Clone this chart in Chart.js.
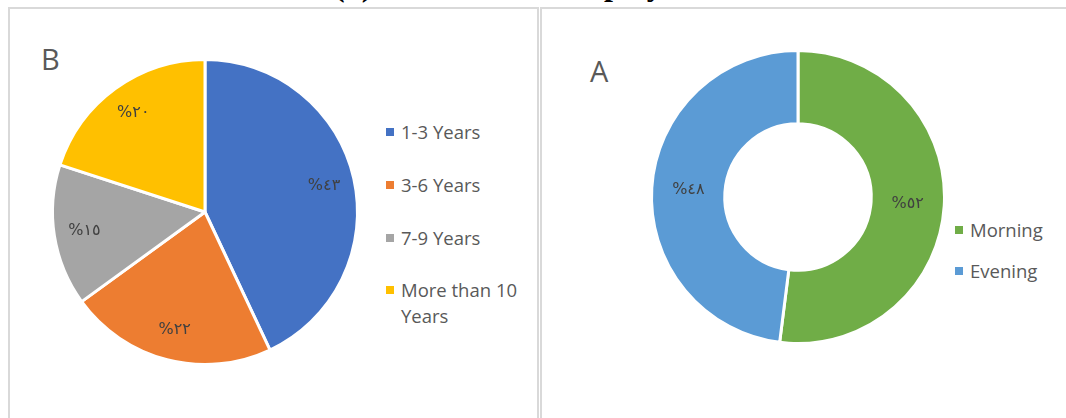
<!DOCTYPE html>
<html>
<head>
<meta charset="utf-8">
<script src="https://cdn.jsdelivr.net/npm/chart.js@4.4.1/dist/chart.umd.min.js"></script>
<style>
  html, body { margin:0; padding:0; background:#fff; width:1066px; height:418px; overflow:hidden; position:relative; font-family:"Open Sans", "Liberation Sans", sans-serif; }
  .panel { position:absolute; border:2px solid #d9d9d9; background:#fff; }
  .title { position:absolute; top:-34px; font-family:"Liberation Serif", "DejaVu Serif", serif; font-weight:bold; font-size:32px; color:#000; white-space:nowrap; }
  .letter { position:absolute; font-size:29px; color:#595959; line-height:1; }
  canvas { position:absolute; }
  .leg { position:absolute; font-size:18.5px; color:#595959; line-height:26px; white-space:nowrap; }
  .leg .sw { position:absolute; left:0; top:9px; width:8px; height:8px; }
  .leg .tx { position:absolute; left:15px; top:0; }
</style>
</head>
<body>
<div class="title" style="left:334px;">(٢)</div>
<div class="title" style="left:556px;">Employment</div>
<div class="panel" style="left:8px; top:7px; width:527px; height:430px;"></div>
<div class="panel" style="left:540px; top:7px; width:540px; height:430px;"></div>
<div class="letter" style="left:41px; top:44px;">B</div>
<div class="letter" style="left:590px; top:56px;">A</div>
<canvas id="pieB" width="320" height="320" style="left:45px; top:52px; width:320px; height:320px;"></canvas>
<canvas id="donA" width="310" height="310" style="left:643px; top:42px; width:310px; height:310px;"></canvas>
<div id="legB"></div>
<div id="legA"></div>
<script>
// ---- data ----
const yearsCategories = ["1-3 Years", "3-6 Years", "7-9 Years", "More than 10 Years"];
const yearsValues = [43, 22, 15, 20];
const yearsColors = ["#4472C4", "#ED7D31", "#A5A5A5", "#FFC000"];

const shiftCategories = ["Morning", "Evening"];
const shiftValues = [52, 48];
const shiftColors = ["#70AD47", "#5B9BD5"];

// ---- helpers ----
const arabicDigits = ["٠","١","٢","٣","٤","٥","٦","٧","٨","٩"];
function toArabic(v) { return "%" + String(v).split("").map(d => arabicDigits[+d] || d).join(""); }

const valueLabels = {
  id: "valueLabels",
  afterDatasetsDraw(chart, args, opts) {
    const ctx = chart.ctx;
    const meta = chart.getDatasetMeta(0);
    ctx.save();
    ctx.font = opts.font;
    ctx.fillStyle = opts.color;
    ctx.textAlign = "center";
    ctx.textBaseline = "middle";
    meta.data.forEach((arc, i) => {
      const p = arc.getProps(["x","y","startAngle","endAngle","innerRadius","outerRadius"], true);
      const a = (p.startAngle + p.endAngle) / 2;
      const r = p.innerRadius + (p.outerRadius - p.innerRadius) * opts.ratio;
      ctx.fillText(toArabic(chart.data.datasets[0].data[i]), p.x + Math.cos(a) * r, p.y + Math.sin(a) * r);
    });
    ctx.restore();
  }
};

function buildLegend(el, cats, colors, left, tops) {
  cats.forEach((c, i) => {
    const d = document.createElement("div");
    d.className = "leg";
    d.style.left = left + "px";
    d.style.top = tops[i] + "px";
    const sw = document.createElement("div");
    sw.className = "sw"; sw.style.background = colors[i];
    const tx = document.createElement("div");
    tx.className = "tx";
    tx.textContent = c;
    if (c === "More than 10 Years") { tx.style.whiteSpace = "normal"; tx.style.width = "135px"; }
    d.appendChild(sw); d.appendChild(tx);
    el.appendChild(d);
  });
}

new Chart(document.getElementById("pieB"), {
  type: "pie",
  data: { labels: yearsCategories, datasets: [{ data: yearsValues, backgroundColor: yearsColors, borderColor: "#ffffff", borderWidth: 3, hoverOffset: 0 }] },
  options: {
    responsive: false, animation: false,
    layout: { padding: 6 },
    plugins: { legend: { display: false }, tooltip: { enabled: false },
      valueLabels: { font: "16px 'DejaVu Sans'", color: "#404040", ratio: 0.8 } }
  },
  plugins: [valueLabels]
});

new Chart(document.getElementById("donA"), {
  type: "doughnut",
  data: { labels: shiftCategories, datasets: [{ data: shiftValues, backgroundColor: shiftColors, borderColor: "#ffffff", borderWidth: 3, hoverOffset: 0 }] },
  options: {
    responsive: false, animation: false,
    cutout: "50%",
    layout: { padding: 7 },
    plugins: { legend: { display: false }, tooltip: { enabled: false },
      valueLabels: { font: "16px 'DejaVu Sans'", color: "#404040", ratio: 0.5 } }
  },
  plugins: [valueLabels]
});

buildLegend(document.getElementById("legB"), yearsCategories, yearsColors, 386, [119, 172, 225, 277]);
buildLegend(document.getElementById("legA"), shiftCategories, shiftColors, 955, [217, 258]);
</script>
</body>
</html>
